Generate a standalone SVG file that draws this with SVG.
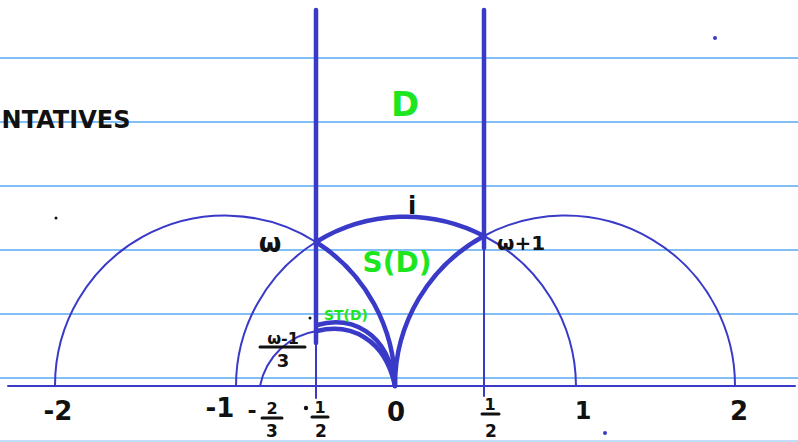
<svg xmlns="http://www.w3.org/2000/svg" width="798" height="442" viewBox="0 0 798 442">
<style>
.rule{stroke:#5aaaf5;stroke-width:1.6;fill:none}
.thin{stroke:#3a3ac8;stroke-width:2;fill:none;stroke-linecap:round}
.thick{stroke:#3a3ac8;stroke-width:4.5;fill:none;stroke-linecap:round}
.lbl{font-family:"DejaVu Sans",sans-serif;font-weight:bold;fill:#111}
.grn{font-family:"DejaVu Sans",sans-serif;font-weight:bold;fill:#1ee61e}
.bar{stroke:#111;stroke-width:3;stroke-linecap:round}
</style>
<rect width="798" height="442" fill="#fff"/>
<g id="ruling">
<line class="rule" x1="0" y1="58" x2="798" y2="58"/>
<line class="rule" x1="0" y1="122" x2="798" y2="122"/>
<line class="rule" x1="0" y1="186" x2="798" y2="186"/>
<line class="rule" x1="0" y1="250" x2="798" y2="250"/>
<line class="rule" x1="0" y1="314" x2="798" y2="314"/>
<line class="rule" x1="0" y1="378" x2="798" y2="378"/>
<line class="rule" x1="0" y1="441" x2="798" y2="441" stroke-opacity="0.5"/>
</g>
<g id="connectors">
<line class="thin" x1="8" y1="386" x2="795" y2="386" stroke-width="2.5"/>
<line class="thick" x1="316" y1="10" x2="316" y2="343"/>
<line class="thin" x1="316" y1="343" x2="316" y2="398"/>
<line class="thick" x1="484" y1="10" x2="484" y2="248"/>
<line class="thin" x1="484" y1="248" x2="484" y2="396"/>
<path class="thin" d="M55,386 A170,170 0 0 1 316,242"/>
<path class="thick" d="M316,242 A170,170 0 0 1 395,386"/>
<path class="thin" d="M236,386 A170,170 0 0 1 316,242"/>
<path class="thick" d="M316,242 A170,170 0 0 1 484,236"/>
<path class="thin" d="M484,236 A170,170 0 0 1 576,386"/>
<path class="thick" d="M395,386 A170,170 0 0 1 484,236"/>
<path class="thin" d="M484,236 A170,170 0 0 1 735,386"/>
<path class="thin" d="M260,386 C266,356 290,335 317,331"/>
<path class="thick" d="M317,325 C350,316 388,330 395,386" stroke-width="3.5"/>
<path class="thick" d="M317,331 C350,323 385,338 395,386" stroke-width="3.5"/>
</g>
<g id="labels">
<text class="grn" x="405" y="116" font-size="34" text-anchor="middle">D</text>
<text class="lbl" x="412" y="214" font-size="24" text-anchor="middle">i</text>
<text class="lbl" x="270" y="252" font-size="26" text-anchor="middle">ω</text>
<text class="lbl" x="497" y="250" font-size="20">ω+1</text>
<text class="grn" x="397" y="272" font-size="28" text-anchor="middle">S(D)</text>
<text class="grn" x="346" y="320" font-size="14" text-anchor="middle">ST(D)</text>
<text class="lbl" x="283" y="344" font-size="16" text-anchor="middle">ω-1</text>
<line class="bar" x1="260" y1="347" x2="305" y2="347"/>
<text class="lbl" x="283" y="367" font-size="18" text-anchor="middle">3</text>
<text class="lbl" x="66" y="128" font-size="24" text-anchor="middle">NTATIVES</text>
<text class="lbl" x="58" y="420" font-size="26" text-anchor="middle">-2</text>
<text class="lbl" x="220" y="417" font-size="26" text-anchor="middle">-1</text>
<text class="lbl" x="252" y="418" font-size="22" text-anchor="middle">-</text>
<text class="lbl" x="272" y="414" font-size="16" text-anchor="middle">2</text>
<line class="bar" x1="262" y1="418" x2="282" y2="418"/>
<text class="lbl" x="272" y="437" font-size="17" text-anchor="middle">3</text>
<circle cx="306" cy="408" r="2.2" fill="#111"/>
<text class="lbl" x="320" y="413" font-size="16" text-anchor="middle">1</text>
<line class="bar" x1="312" y1="417" x2="328" y2="417"/>
<text class="lbl" x="321" y="437" font-size="17" text-anchor="middle">2</text>
<text class="lbl" x="396" y="421" font-size="26" text-anchor="middle">0</text>
<text class="lbl" x="490" y="410" font-size="16" text-anchor="middle">1</text>
<line class="bar" x1="482" y1="414" x2="499" y2="414"/>
<text class="lbl" x="491" y="437" font-size="17" text-anchor="middle">2</text>
<text class="lbl" x="583" y="419" font-size="24" text-anchor="middle">1</text>
<text class="lbl" x="739" y="420" font-size="26" text-anchor="middle">2</text>
</g>
<g id="dots">
<circle cx="715" cy="38" r="2" fill="#3a3ac8"/>
<circle cx="605" cy="433" r="2" fill="#3a3ac8"/>
<circle cx="56" cy="218" r="1.5" fill="#111"/>
<circle cx="310" cy="318" r="1.5" fill="#111"/>
</g>
</svg>
